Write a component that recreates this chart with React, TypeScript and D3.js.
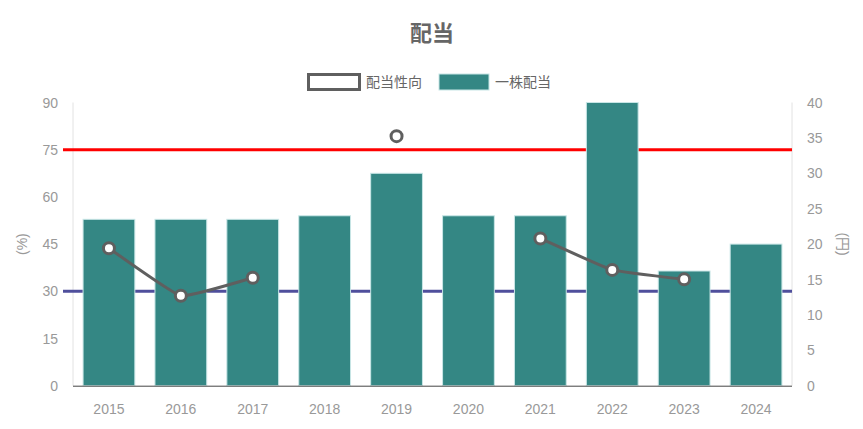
import React from "react";
import * as d3 from "d3";

const categories = ["2015", "2016", "2017", "2018", "2019", "2020", "2021", "2022", "2023", "2024"];
const dividendPerShare = [23.5, 23.5, 23.5, 24, 30, 24, 24, 40, 16.2, 20];
const payoutRatio: (number | null)[] = [43.7, 28.6, 34.3, null, 79.3, null, 46.8, 36.8, 33.8, null];
const leftTicks = [0, 15, 30, 45, 60, 75, 90];
const rightTicks = [0, 5, 10, 15, 20, 25, 30, 35, 40];
const refLines = [
  { value: 75, color: "#ff0000" },
  { value: 30, color: "#4f4f9c" },
];
const seriesNames = ["配当性向", "一株配当"];

const W = 863;
const H = 429;
const FONT = "'Liberation Sans', Arial, 'Noto Sans CJK JP', sans-serif";

export default function App() {
  const left = 73;
  const right = 792;
  const top = 102.5;
  const bottom = 385.7;

  const x = d3.scaleBand<string>().domain(categories).range([left, right]).paddingInner(0.28).paddingOuter(0.14);
  const xc = (c: string) => (x(c) as number) + x.bandwidth() / 2;
  const yL = d3.scaleLinear().domain([0, 90]).range([bottom, top]);
  const yR = d3.scaleLinear().domain([0, 40]).range([bottom, top]);

  const pts = categories.map((c, i) => ({ c, v: payoutRatio[i] }));
  const line = d3
    .line<{ c: string; v: number | null }>()
    .defined((d) => d.v !== null)
    .x((d) => xc(d.c))
    .y((d) => yL(d.v as number))
    .curve(d3.curveCardinal.tension(0.7));

  const gray = "#999";
  const lineColor = "#5f5f5f";
  const barColor = "#348784";

  return (
    <svg width={W} height={H} style={{ position: "absolute", left: 0, top: 0, fontFamily: FONT }}>
      <rect x={0} y={0} width={W} height={H} fill="#fff" />
      <text x={432} y={41} textAnchor="middle" fontSize={22} fontWeight="bold" fill="#666">
        配当
      </text>
      {/* legend */}
      <rect x={308.5} y={74.5} width={51} height={15} fill="#fff" stroke={lineColor} strokeWidth={3} />
      <text x={366} y={87} fontSize={14} fill="#666">{seriesNames[0]}</text>
      <rect x={439} y={74} width={50} height={16} fill={barColor} stroke="#c8e6e6" strokeWidth={1} />
      <text x={495} y={87} fontSize={14} fill="#666">{seriesNames[1]}</text>

      {/* axes lines */}
      <line x1={left} x2={left} y1={top} y2={bottom} stroke="#e2e2e2" strokeWidth={1} />
      <line x1={right} x2={right} y1={top} y2={bottom} stroke="#e2e2e2" strokeWidth={1} />

      {/* left ticks */}
      {leftTicks.map((t) => (
        <text key={"l" + t} x={58} y={yL(t) + 5} textAnchor="end" fontSize={14} fill={gray}>
          {t}
        </text>
      ))}
      {rightTicks.map((t) => (
        <text key={"r" + t} x={807} y={yR(t) + 5} textAnchor="start" fontSize={14} fill={gray}>
          {t}
        </text>
      ))}
      <text transform={`translate(27,${(top + bottom) / 2}) rotate(-90)`} textAnchor="middle" fontSize={14} fill={gray}>
        (%)
      </text>
      <text transform={`translate(838,${(top + bottom) / 2}) rotate(90)`} textAnchor="middle" fontSize={14} fill={gray}>
        (円)
      </text>

      {/* reference lines */}
      {refLines.map((r) => (
        <line key={r.value} x1={63} x2={right} y1={yL(r.value)} y2={yL(r.value)} stroke={r.color} strokeWidth={3} />
      ))}

      {/* bars */}
      {categories.map((c, i) => (
        <rect
          key={c}
          x={x(c) as number}
          y={yR(dividendPerShare[i])}
          width={x.bandwidth()}
          height={bottom - yR(dividendPerShare[i])}
          fill={barColor}
          stroke="#c8e6e6"
          strokeWidth={1}
        />
      ))}

      {/* bottom axis */}
      <line x1={left} x2={right} y1={bottom + 0.5} y2={bottom + 0.5} stroke="#444" strokeWidth={1} />
      {categories.map((c) => (
        <text key={"x" + c} x={xc(c)} y={414} textAnchor="middle" fontSize={14} fill={gray}>
          {c}
        </text>
      ))}

      {/* line series */}
      <path d={line(pts) || ""} fill="none" stroke={lineColor} strokeWidth={3} />
      {pts
        .filter((d) => d.v !== null)
        .map((d) => (
          <circle key={"p" + d.c} cx={xc(d.c)} cy={yL(d.v as number)} r={5.5} fill="#fff" stroke={lineColor} strokeWidth={3} />
        ))}
    </svg>
  );
}
